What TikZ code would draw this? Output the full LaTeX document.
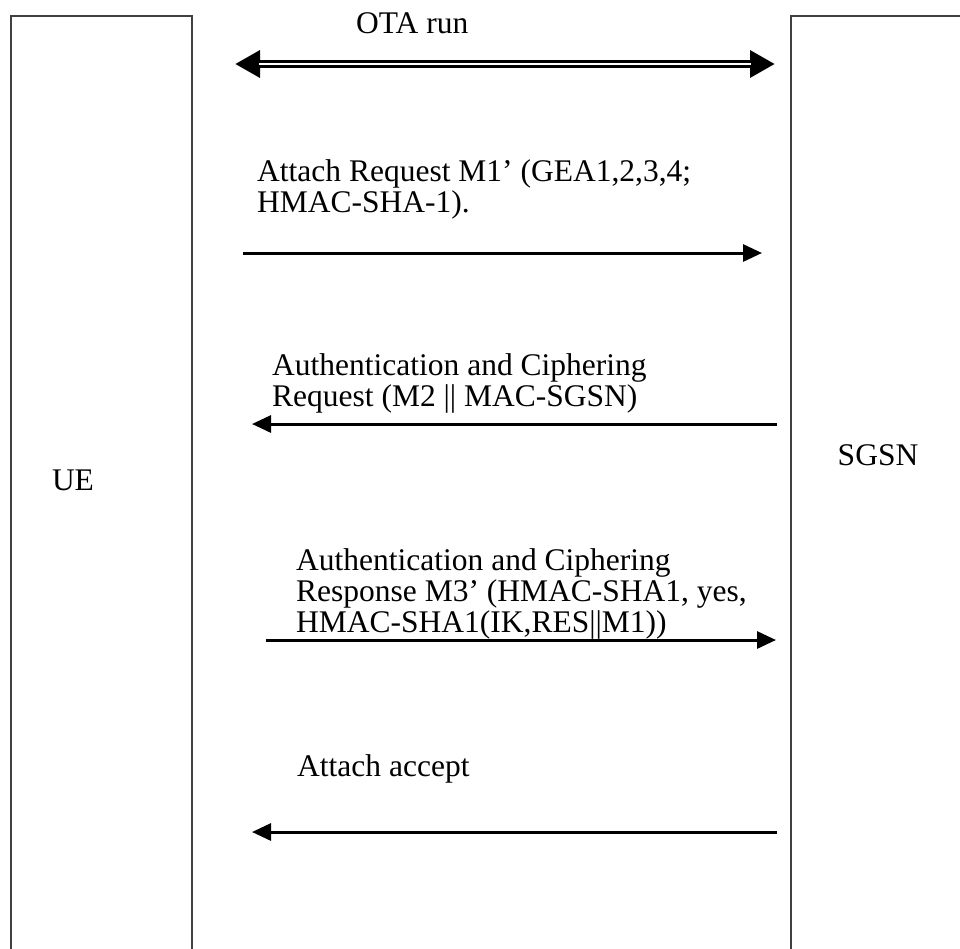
\documentclass[tikz,border=0pt]{standalone}
\usepackage{fontspec}
\setmainfont{Liberation Serif}
\usetikzlibrary{arrows.meta}

\begin{document}
\begin{tikzpicture}[x=1pt, y=-1pt,
	lane/.style={draw=black!75, line width=1.5pt, anchor=north west, inner sep=0pt, minimum width=181pt, minimum height=960pt},
	entity/.style={inner sep=0pt, font=\fontsize{31.5}{32}\selectfont},
	msg/.style={anchor=base west, align=left, inner sep=0pt, font=\fontsize{31.5}{31}\selectfont},
	call/.style={-{Triangle[length=19pt, width=17pt]}, line width=3pt},
	run/.style={{Triangle[length=25pt, width=26pt]}-{Triangle[length=25pt, width=26pt]}, line width=8pt}]
	\useasboundingbox (0,0) rectangle (960,948);
	\clip (0,0) rectangle (960,948);
	\node[lane] (ue) at (10,15) {};
	\node[lane] (sgsn) at (790,15) {};
	\node[entity] (uelabel) at (73,480) {UE};
	\node[entity] (sgsnlabel) at (878,455) {SGSN};
	% messages (base = last line)
	\node[msg] (m0) at (356,33) {OTA run};
	\node[msg] (m1) at (257,212) {Attach Request M1’ (GEA1,2,3,4;\\HMAC-SHA-1).};
	\node[msg] (m2) at (272,406) {Authentication and Ciphering\\Request (M2 || MAC-SGSN)};
	\node[msg] (m3) at (296,632) {Authentication and Ciphering\\Response M3’ (HMAC-SHA1, yes,\\HMAC-SHA1(IK,RES||M1))};
	\node[msg] (m4) at (297,776) {Attach accept};
	\coordinate (a0) at (235,64);
	\coordinate (b0) at (775,64);
	\coordinate (a1) at (243,253);
	\coordinate (b1) at (762,253);
	\coordinate (a2) at (777,424);
	\coordinate (b2) at (252,424);
	\coordinate (a3) at (266,640);
	\coordinate (b3) at (776,640);
	\coordinate (a4) at (777,832);
	\coordinate (b4) at (252,832);
	\draw[run] (a0) -- (b0);
	\draw[white, line width=2pt, shorten <=24pt, shorten >=24pt] (a0) -- (b0);
	\draw[call] (a1) -- (b1);
	\draw[call] (a2) -- (b2);
	\draw[call] (a3) -- (b3);
	\draw[call] (a4) -- (b4);
\end{tikzpicture}
\end{document}
